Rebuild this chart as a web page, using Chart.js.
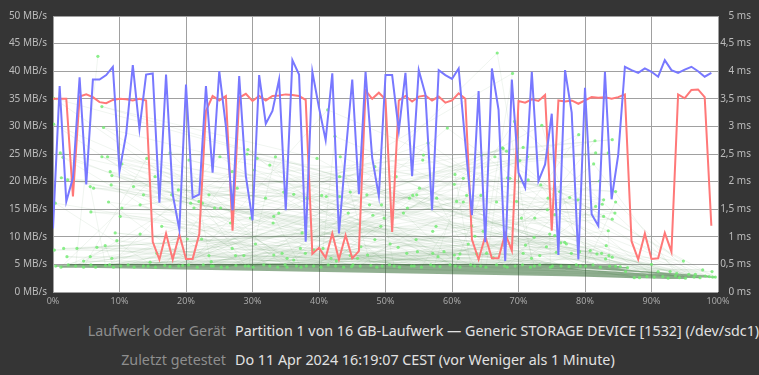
<!DOCTYPE html>
<html>
<head>
<meta charset="utf-8">
<script src="https://cdn.jsdelivr.net/npm/chart.js@4"></script>
<style>
  html, body { margin: 0; padding: 0; background: #353535; }
  body { width: 759px; height: 375px; position: relative; overflow: hidden; font-family: 'Noto Sans', sans-serif; }
  #wrap { position: absolute; left: 0; top: 2px; width: 759px; height: 310px; }
  .lbl { position: absolute; right: 533px; color: #8e8e8e; font-size: 14.3px; white-space: nowrap; }
  .val { position: absolute; left: 235px; color: #e2e2e2; font-size: 14.3px; white-space: nowrap; }
</style>
</head>
<body>
<div id="wrap"><canvas id="bench"></canvas></div>
<div class="lbl" style="top:321px">Laufwerk oder Gerät</div>
<div class="val" style="top:321px">Partition 1 von 16 GB-Laufwerk — Generic STORAGE DEVICE [1532] (/dev/sdc1)</div>
<div class="lbl" style="top:350px">Zuletzt getestet</div>
<div class="val" style="top:350px">Do 11 Apr 2024 16:19:07 CEST (vor Weniger als 1 Minute)</div>
<script>
// ─── Benchmark data ─────────────────────────────────────────────────────────

// read rate, MB/s, one sample per 1 % of the device
const readRate = [
    11.5, 37.3, 16.4, 20.7, 38.9, 19.5, 38.5, 38.5, 39.3, 40.8,
    21.9, 28.6, 41.1, 29.5, 39.4, 39.6, 16.2, 39.4, 17.7, 11.3,
    37.6, 17.1, 17.7, 37.3, 21.6, 40.0, 30.0, 14.8, 39.1, 21.0,
    13.0, 39.3, 30.5, 32.8, 38.5, 14.8, 42.0, 39.4,  9.1, 39.9,
    33.4, 27.5, 39.6, 10.6, 25.0, 38.5, 17.7, 39.9, 24.3, 17.4,
    39.3, 39.3, 29.2, 39.7, 21.0, 40.2, 35.8, 14.8, 40.2, 39.3,
    38.6, 40.5, 27.0, 13.9, 36.4,  9.0, 40.5, 33.0,  5.6, 38.5,
    21.6, 18.9, 39.9, 20.1, 23.1, 32.3,  6.7, 40.2, 32.5,  5.9,
    37.0, 14.1, 12.0, 39.9, 16.8, 24.9, 40.8, 40.2, 39.7, 40.5,
    39.9, 39.0, 42.0, 40.2, 39.7, 40.3, 40.8, 40.0, 39.0, 39.7,
];

// write rate, MB/s
const writeRate = [
    35.0, 35.0, 35.0, 17.3, 35.4, 35.8, 35.3, 34.4, 34.2, 34.8,
    35.0, 34.9, 34.7, 35.0, 34.7,  9.1,  5.9, 10.6,  5.9, 10.4,
     6.0,  6.0, 10.5, 32.8, 35.5, 34.7, 35.5, 11.1, 35.2, 35.9,
    34.6, 35.5, 34.7, 35.5, 35.6, 35.8, 35.7, 35.5, 34.8,  6.9,
     8.0,  6.2, 10.6,  5.9, 10.3,  6.1,  7.4, 36.5, 35.0, 36.1,
    34.9, 10.9, 34.7, 35.5, 34.5, 35.4, 35.6, 34.7, 35.4, 34.3,
    34.7, 36.0, 35.0,  9.5,  5.9, 10.1,  6.1,  6.1, 10.6,  7.5,
    34.6, 34.3, 34.9, 34.6, 35.7, 11.1, 34.7, 34.5, 34.7, 34.1,
    34.7, 35.3, 35.2, 35.3, 35.0, 35.3, 35.8,  9.2,  5.9, 10.6,
     6.0,  6.1, 10.7,  7.3, 35.8, 35.1, 36.6, 36.7, 35.3, 12.0,
];

// access time samples on the common band, [position %, ms], in sampling order
const accessBand = [
    [3.4,0.47],[61.2,0.45],[22.6,0.49],[79.3,0.47],[9.1,0.45],[47.8,0.48],[90.4,0.27],[14.3,0.47],[66.7,0.49],[35.2,0.45],
    [97.3,0.26],[5.7,0.49],[52.1,0.45],[28.9,0.47],[84.6,0.47],[41.4,0.49],[12.2,0.45],[93.6,0.29],[71.8,0.45],[19.5,0.48],
    [57.3,0.47],[1.2,0.45],[44.9,0.46],[88.2,0.26],[31.7,0.49],[75.1,0.47],[7.9,0.48],[63.4,0.47],[25.3,0.45],[99.2,0.27],
    [50.6,0.49],[16.8,0.48],[82.3,0.45],[38.1,0.47],[69.5,0.47],[2.3,0.49],[55.4,0.45],[95.1,0.25],[21.7,0.45],[77.6,0.46],
    [11.3,0.49],[46.2,0.47],[33.8,0.45],[86.4,0.44],[59.7,0.49],[6.4,0.45],[73.2,0.49],[27.5,0.48],[91.7,0.28],[40.3,0.45],
    [17.6,0.46],[65.1,0.45],[53.9,0.47],[0.4,0.47],[81.2,0.49],[36.6,0.47],[98.1,0.29],[23.8,0.47],[68.3,0.45],[10.2,0.47],
    [48.7,0.45],[85.3,0.46],[30.1,0.45],[62.8,0.49],[94.2,0.26],[4.6,0.45],[42.5,0.47],[78.7,0.49],[15.4,0.45],[58.2,0.46],
    [89.3,0.28],[34.9,0.49],[72.4,0.47],[8.5,0.49],[51.3,0.47],[26.2,0.45],[96.4,0.27],[80.1,0.47],[43.7,0.45],[18.9,0.47],
    [64.3,0.47],[87.4,0.26],[37.3,0.45],[56.8,0.49],[13.6,0.47],[74.8,0.45],[92.5,0.25],[29.4,0.47],[60.5,0.47],[45.1,0.49],
    [83.7,0.47],[20.4,0.49],[99.6,0.27],[39.2,0.47],[70.6,0.49],[54.3,0.47],[24.1,0.47],[67.9,0.47],[49.5,0.47],[32.6,0.47],
    [76.4,0.47],[98.7,0.28],
];

// access time outliers, [position %, ms]
const accessSpread = [
    [6.75,4.27],[7.35,3.36],[7.6,2.98],[0.1,3.04],[0.1,3.51],[1.5,2.44],[1.1,2.52],[2.2,2.03],[1.25,2.07],[0.35,1.61],
    [5.6,1.91],[6.1,1.88],[8.6,2.18],[8.85,2.11],[8.75,1.94],[8.35,1.63],[10.35,2.32],[7.35,2.45],[5.7,1.45],[10.1,1.37],
    [9.35,1.07],[9.6,0.93],[12.1,1.91],[13.6,1.76],[13.1,1.58],[14.1,2.42],[15.35,2.09],[17.6,2.52],[17.85,1.76],[18.85,1.85],
    [16.35,1.19],[13.1,1.05],[0.2,0.76],[3.6,0.79],[1.6,0.79],[2.1,0.64],[6.6,0.81],[7.85,0.84],[5.6,0.64],[8.85,0.61],
    [14.6,0.54],[15.6,0.70],[4.6,0.56],[10.35,1.52],[8.2,2.45],
    [20.45,2.39],[25.1,2.45],[29.3,2.58],[29.2,2.5],[30.7,2.42],[32.6,2.30],[33.45,2.45],[30.3,2.21],[26.95,2.18],[39.7,2.42],
    [23.45,1.76],[20.7,1.61],[21.95,1.64],[22.45,1.61],[21.2,1.52],[27.7,1.88],[31.95,1.70],[34.7,1.81],[36.2,1.77],[38.2,1.70],
    [24.3,1.52],[25.2,1.52],[33.2,1.37],[33.95,1.43],[33.1,1.25],[26.7,1.25],[29.7,1.34],[20.2,0.96],[22.35,0.96],[30.45,0.87],
    [26.95,0.79],[28.7,0.66],[27.45,0.66],[23.45,0.66],[23.8,0.55],[33.2,0.67],[34.45,0.70],[35.2,0.61],[37.2,0.79],[37.45,1.07],
    [37.95,0.70],[39.2,0.76],[36.2,0.58],
    [41.3,3.30],[42.4,2.82],[43.2,2.45],[43.1,2.09],[40.4,1.75],[41.1,1.73],[43.1,1.73],[46.3,2.21],[48.4,2.27],[47.2,1.76],
    [47.6,1.58],[49.4,1.58],[51.6,2.09],[44.7,1.81],[44.4,1.43],[48.1,1.39],[49.3,1.19],[49.8,1.34],[52.7,1.43],[53.3,1.52],
    [53.6,1.70],[55.1,1.88],[54.1,1.75],[54.7,1.76],[55.6,2.39],[55.7,2.48],[56.4,2.70],[59.3,2.97],[57.7,1.70],[57.6,1.19],
    [57.1,1.10],[54.6,0.95],[53.2,0.70],[50.7,0.87],[51.9,0.81],[48.4,0.95],[46.3,0.82],[47.3,0.67],[45.8,0.61],[44.7,0.66],
    [42.6,0.56],[41.8,0.61],[40.6,0.79],[57.9,0.64],[58.8,0.73],[57.1,0.70],[54.8,0.73],
    [66.8,4.33],[69.1,3.96],[69.4,3.09],[73.5,3.02],[79.05,2.85],[64.45,2.48],[66.45,2.45],[67.6,2.61],[68.2,2.55],[70.7,2.62],
    [71.35,2.45],[70.2,2.38],[60.45,2.13],[61.7,2.06],[60.35,1.95],[68.35,2.07],[68.7,2.06],[71.45,2.03],[73.35,1.94],[74.45,1.70],
    [74.35,1.49],[62.2,1.75],[64.35,1.75],[62.95,1.57],[60.7,1.64],[61.7,1.63],[66.7,1.63],[69.7,1.64],[77.7,1.71],[78.95,1.67],
    [76.2,1.82],[75.45,1.40],[72.45,1.34],[70.45,1.34],[64.7,1.10],[63.45,1.01],[62.95,1.20],[67.95,1.07],[74.7,1.05],[75.45,1.02],
    [76.95,0.90],[76.35,0.89],[77.2,0.87],[72.35,0.99],[71.05,0.85],[74.2,0.82],[62.45,0.87],[61.2,0.69],[60.35,0.67],[60.95,0.61],
    [67.95,0.84],[70.7,0.70],[73.2,0.66],[71.95,0.61],[75.7,0.72],[77.95,0.70],[79.2,0.73],[66.2,0.62],[65.2,0.70],[63.7,0.69],
    [67.7,2.6],
    [81.5,2.74],[84.1,2.76],[81.6,2.52],[83.5,2.52],[81.3,2.32],[82.2,2.01],[84.6,1.82],[82.8,1.67],[82.6,1.59],[84.6,1.63],
    [81.6,1.55],[84.5,1.43],[82.8,1.37],[84.1,1.32],[83.5,1.11],[83.2,0.84],[80.8,0.75],[81.8,0.69],[82.5,0.70],[83.6,0.66],
    [84.1,0.63],[83.1,0.60],[94.8,0.56],[90.0,0.50],[91.0,0.37],[97.7,0.40],[99.1,0.37],[92.8,0.37],[93.8,0.34],[95.6,0.32],
    [96.6,0.32],[86.1,0.37],
];

const xTicksPct   = { min: 0, max: 100, step: 10 };
const rateAxis    = { min: 0, max: 50, step: 5 };
const accessAxis  = { min: 0, max: 5, step: 0.5 };

// ─── Build datasets ──────────────────────────────────────────────────────────

const samplePct = readRate.map((_, i) => i);
const toXY = arr => arr.map((v, i) => ({ x: samplePct[i], y: v }));
const pairXY = ([x, y]) => ({ x, y });

// sampling order: outliers are taken with a stride so the connecting lines
// jump across the device like the real seek pattern, band samples in between
const seq = [];
const n = accessSpread.length;
let b = 0;
for (let k = 0; k < n; k++) {
    seq.push(pairXY(accessSpread[(k * 53) % n]));
    if (b < accessBand.length) seq.push(pairXY(accessBand[b++]));
}
while (b < accessBand.length) seq.push(pairXY(accessBand[b++]));

const allAccess = accessBand.concat(accessSpread).map(pairXY);

const plotBg = {
    id: 'plotBg',
    beforeDraw(chart) {
        const { ctx, chartArea: a } = chart;
        ctx.save();
        ctx.fillStyle = '#ffffff';
        ctx.fillRect(a.left, a.top, a.right - a.left, a.bottom - a.top);
        ctx.restore();
    },
};

const tickFont = { family: 'Noto Sans', size: 10 };

new Chart(document.getElementById('bench'), {
    type: 'line',
    data: {
        datasets: [
            { label: 'Read',  data: toXY(readRate),  borderColor: '#7878ff', borderWidth: 2, pointRadius: 0, tension: 0, yAxisID: 'y' },
            { label: 'Write', data: toXY(writeRate), borderColor: '#ff7878', borderWidth: 2, pointRadius: 0, tension: 0, yAxisID: 'y' },
            { label: 'Access', type: 'scatter', data: allAccess, showLine: false, pointRadius: 1.6, pointBorderWidth: 0,
              pointBackgroundColor: 'rgba(110,235,110,0.8)', yAxisID: 'y2' },
            { label: 'Seek band', data: accessBand.map(pairXY), borderColor: 'rgba(35,95,35,0.5)', borderWidth: 1.4,
              pointRadius: 0, tension: 0, yAxisID: 'y2' },
            { label: 'Seek path', data: seq, borderColor: 'rgba(70,130,70,0.08)', borderWidth: 1,
              pointRadius: 0, tension: 0, yAxisID: 'y2' },
        ],
    },
    options: {
        responsive: true,
        maintainAspectRatio: false,
        animation: false,
        parsing: false,
        layout: { padding: { top: 14, right: 8, left: 0, bottom: 0 } },
        plugins: { legend: { display: false }, tooltip: { enabled: false } },
        scales: {
            x: {
                type: 'linear', min: xTicksPct.min, max: xTicksPct.max,
                ticks: { stepSize: xTicksPct.step, color: '#a8a8a8', font: { family: 'Noto Sans', size: 9 }, padding: 4,
                         maxRotation: 0, callback: v => v + '%' },
                grid: { color: '#a0a0a0', drawTicks: false },
                border: { display: false },
                afterFit: s => { s.height = 20; },
            },
            y: {
                position: 'left', min: rateAxis.min, max: rateAxis.max,
                ticks: { stepSize: rateAxis.step, color: '#bcbcbc', font: tickFont, padding: 6,
                         callback: v => v + ' MB/s' },
                grid: { color: '#a0a0a0', drawTicks: false },
                border: { display: false },
                afterFit: s => { s.width = 53; },
            },
            y2: {
                position: 'right', min: accessAxis.min, max: accessAxis.max,
                ticks: { stepSize: accessAxis.step, color: '#bcbcbc', font: tickFont, crossAlign: 'far',
                         callback: v => String(+v.toFixed(1)).replace('.', ',') + ' ms' },
                grid: { display: false, drawTicks: false },
                border: { display: false },
                afterFit: s => { s.width = 33; },
            },
        },
    },
    plugins: [plotBg],
});
</script>
</body>
</html>
